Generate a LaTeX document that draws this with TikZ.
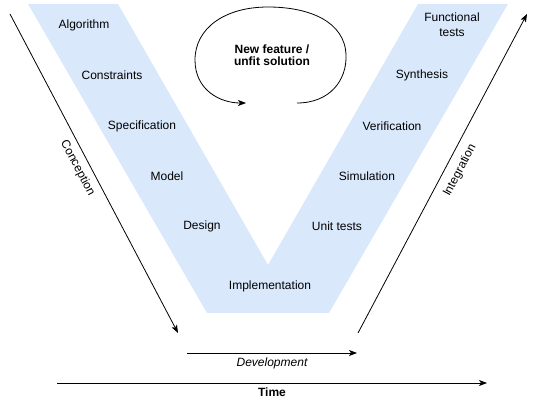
\documentclass[tikz,border=0pt]{standalone}
\usepackage{fontspec}
\setmainfont{Liberation Sans}
\usepackage{xcolor}
\usetikzlibrary{arrows.meta}

\begin{document}
\begin{tikzpicture}[x=1pt,y=-1pt,
  stage/.style={font=\fontsize{12}{14}\selectfont,align=center},
  arr/.style={line width=0.8pt,-{Stealth[length=8pt,width=6pt,inset=2pt]}}]
\definecolor{vblue}{HTML}{DAE8FC}
\useasboundingbox (0,0) rectangle (536,406);
\fill[vblue] (28,4) -- (118,4) -- (268,265) -- (418,4) -- (508,4) -- (329,313) -- (207,313) -- cycle;
  \foreach \nm/\txt/\x/\y in {alg/Algorithm/84/25,cons/Constraints/112/75,spec/Specification/142/126,model/Model/167/176,design/Design/202/226,impl/Implementation/270/286,unit/Unit tests/337/226,sim/Simulation/367/176,verif/Verification/392/126,synth/Synthesis/422/75}
  {  \node [stage] (\nm) at (\x,\y) {\txt};}
\node [stage] (func) at (452,25) {Functional\\[1pt]tests};
\node [stage,font=\fontsize{12}{14}\selectfont\bfseries] (feat) at (272,55) {New feature /\\[-2pt]unfit solution};
\draw[arr] (297,103) .. controls (330,103) and (347,80) .. (346,55) .. controls (345,22) and (310,7) .. (268,7) .. controls (225,7) and (195,28) .. (195,60) .. controls (195,90) and (220,103) .. (246,103);
\coordinate (concA) at (10,14);
\coordinate (concB) at (178,333);
\coordinate (integA) at (358,333);
\coordinate (integB) at (527,14);
\coordinate (devA) at (187,353);
\coordinate (devB) at (357,353);
\coordinate (timeA) at (57,383);
\coordinate (timeB) at (487,383);
\draw[arr] (concA) -- (concB) node[stage,sloped,below,pos=0.465,inner sep=6pt] (conc) {Conception};
\draw[arr] (integA) -- (integB) node[stage,sloped,below,pos=0.53,inner sep=8pt] (integ) {Integration};
\draw[arr] (devA) -- (devB) node[stage,below,midway,inner sep=4pt] (dev) {\itshape Development};
\draw[arr] (timeA) -- (timeB) node[stage,below,midway,inner sep=4pt] (time) {\bfseries Time};
\end{tikzpicture}
\end{document}
